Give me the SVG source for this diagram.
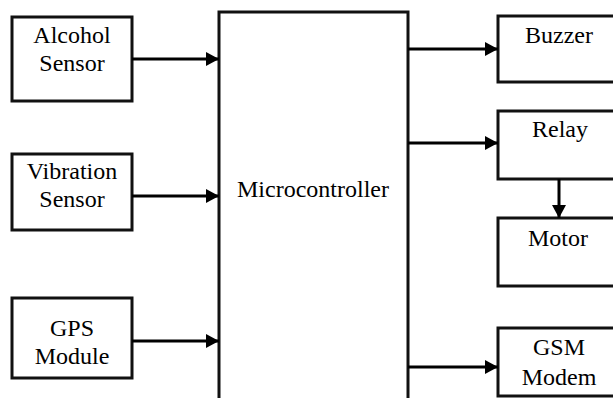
<svg xmlns="http://www.w3.org/2000/svg" width="613" height="398" viewBox="0 0 613 398">
<defs>
<marker id="ah" markerUnits="userSpaceOnUse" markerWidth="14" markerHeight="14" refX="13" refY="7" orient="auto">
<path d="M0,0 L13,7 L0,14 Z" fill="#000"/>
</marker>
<style>
.box{fill:#fff;stroke:#111;stroke-width:3}
.lbl{font-family:'Liberation Serif','Times New Roman',Times,'DejaVu Serif',serif;font-size:24px;fill:#000;text-anchor:middle}
.con{fill:none;stroke:#000;stroke-width:3;marker-end:url(#ah)}
</style>
</defs>
<rect width="613" height="398" fill="#fff"/>
<g id="alcohol"><rect class="box" x="12" y="17" width="120" height="84"/><text class="lbl" x="72" y="43">Alcohol</text><text class="lbl" x="72" y="71">Sensor</text></g>
<g id="vibration"><rect class="box" x="12" y="154" width="120" height="76"/><text class="lbl" x="72" y="179">Vibration</text><text class="lbl" x="72" y="207">Sensor</text></g>
<g id="gps"><rect class="box" x="12" y="298" width="120" height="80"/><text class="lbl" x="72" y="336">GPS</text><text class="lbl" x="72" y="364">Module</text></g>
<g id="micro"><rect class="box" x="219" y="12" width="189" height="400"/><text class="lbl" x="313" y="197">Microcontroller</text></g>
<g id="buzzer"><rect class="box" x="498" y="16" width="130" height="66"/><text class="lbl" x="559" y="43">Buzzer</text></g>
<g id="relay"><rect class="box" x="498" y="111" width="130" height="68"/><text class="lbl" x="560" y="137">Relay</text></g>
<g id="motor"><rect class="box" x="498" y="218" width="130" height="68"/><text class="lbl" x="558" y="246">Motor</text></g>
<g id="gsm"><rect class="box" x="498" y="328" width="130" height="68"/><text class="lbl" x="559" y="355">GSM</text><text class="lbl" x="559" y="385">Modem</text></g>
<g id="connectors">
<path class="con" d="M132 59 H219"/>
<path class="con" d="M132 196 H219"/>
<path class="con" d="M132 341 H219"/>
<path class="con" d="M408 49 H498"/>
<path class="con" d="M408 143 H498"/>
<path class="con" d="M408 367 H498"/>
<path class="con" d="M559 179 V218"/>
</g>
</svg>
